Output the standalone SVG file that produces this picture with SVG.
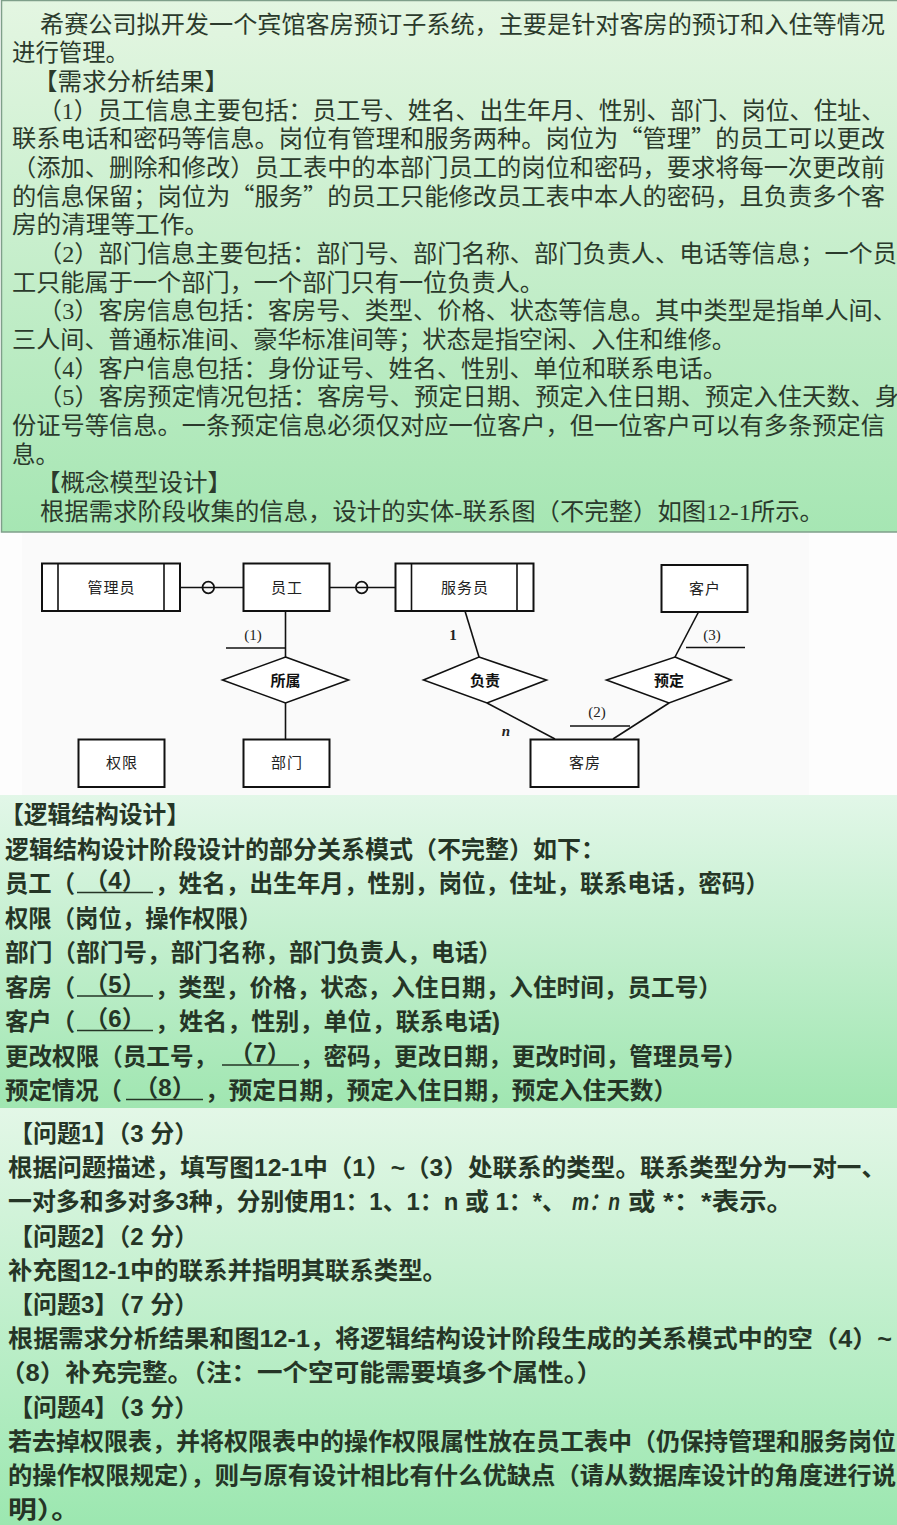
<svg xmlns="http://www.w3.org/2000/svg" width="897" height="1525" viewBox="0 0 897 1525">
<defs>
<linearGradient id="g1" x1="0" y1="0" x2="0" y2="1">
<stop offset="0" stop-color="#e4f6e2"/>
<stop offset="1" stop-color="#a6e6b3"/>
</linearGradient>
<linearGradient id="g2" x1="0" y1="0" x2="0" y2="1">
<stop offset="0" stop-color="#e2f7e8"/>
<stop offset="1" stop-color="#a0e6b1"/>
</linearGradient>
<linearGradient id="g3" x1="0" y1="0" x2="0" y2="1">
<stop offset="0" stop-color="#e3f7e7"/>
<stop offset="1" stop-color="#9ce7b0"/>
</linearGradient>
<style>
.t1{font-family:"Liberation Serif","Noto Sans CJK SC",serif;font-size:23.5px;fill:#2b3a2c}
.q{font-family:"Noto Sans CJK SC",sans-serif}
.t2{font-family:"Liberation Sans","Noto Sans CJK SC",sans-serif;font-size:24px;font-weight:bold;fill:#253526}
.box{fill:#ffffff;stroke:#111;stroke-width:2}
.dia{fill:#ffffff;stroke:#111;stroke-width:1.6}
.ln{stroke:#111;stroke-width:1.6;fill:none}
.lbl{font-family:"Noto Sans CJK SC","Noto Sans",sans-serif;font-size:15px;fill:#222;text-anchor:middle;letter-spacing:1px}
.dl{font-family:"Noto Sans CJK SC","Noto Sans",sans-serif;font-size:15px;font-weight:bold;fill:#111;text-anchor:middle}
.num{font-family:"Liberation Serif",serif;font-size:15px;fill:#222;text-anchor:middle}
.ul{stroke:#253526;stroke-width:1.6}
</style>
</defs>

<!-- backgrounds -->
<rect x="0" y="0" width="897" height="1525" fill="#ffffff"/>
<rect x="1.5" y="0.5" width="897" height="531.5" fill="url(#g1)" stroke="#7f9f8a" stroke-width="1.5"/>
<rect x="0" y="533" width="897" height="262" fill="#fdfdfd"/>
<rect x="22" y="533" width="787" height="262" fill="#fafafa"/>
<rect x="0" y="795" width="897" height="313" fill="url(#g2)"/>
<rect x="0" y="1108" width="897" height="417" fill="url(#g3)"/>

<!-- top text -->
<g id="intro">
<text class="t1" x="40" y="32.5" textLength="845" lengthAdjust="spacingAndGlyphs">希赛公司拟开发一个宾馆客房预订子系统，主要是针对客房的预订和入住等情况</text>
<text class="t1" x="12" y="61.2" textLength="117" lengthAdjust="spacingAndGlyphs">进行管理。</text>
<text class="t1" x="33" y="89.8" textLength="196" lengthAdjust="spacingAndGlyphs">【需求分析结果】</text>
<text class="t1" x="38" y="118.5" textLength="847" lengthAdjust="spacingAndGlyphs">（1）员工信息主要包括：员工号、姓名、出生年月、性别、部门、岗位、住址、</text>
<text class="t1" x="12" y="147.2" textLength="873" lengthAdjust="spacingAndGlyphs">联系电话和密码等信息。岗位有管理和服务两种。岗位为<tspan class="q">“</tspan>管理<tspan class="q">”</tspan>的员工可以更改</text>
<text class="t1" x="12" y="175.8" textLength="873" lengthAdjust="spacingAndGlyphs">（添加、删除和修改）员工表中的本部门员工的岗位和密码，要求将每一次更改前</text>
<text class="t1" x="12" y="204.5" textLength="873" lengthAdjust="spacingAndGlyphs">的信息保留；岗位为<tspan class="q">“</tspan>服务<tspan class="q">”</tspan>的员工只能修改员工表中本人的密码，且负责多个客</text>
<text class="t1" x="12" y="233.2" textLength="197" lengthAdjust="spacingAndGlyphs">房的清理等工作。</text>
<text class="t1" x="38" y="261.9" textLength="859" lengthAdjust="spacingAndGlyphs">（2）部门信息主要包括：部门号、部门名称、部门负责人、电话等信息；一个员</text>
<text class="t1" x="12" y="290.5" textLength="532" lengthAdjust="spacingAndGlyphs">工只能属于一个部门，一个部门只有一位负责人。</text>
<text class="t1" x="38" y="319.2" textLength="859" lengthAdjust="spacingAndGlyphs">（3）客房信息包括：客房号、类型、价格、状态等信息。其中类型是指单人间、</text>
<text class="t1" x="12" y="347.9" textLength="724" lengthAdjust="spacingAndGlyphs">三人间、普通标准间、豪华标准间等；状态是指空闲、入住和维修。</text>
<text class="t1" x="38" y="376.5" textLength="689" lengthAdjust="spacingAndGlyphs">（4）客户信息包括：身份证号、姓名、性别、单位和联系电话。</text>
<text class="t1" x="38" y="405.2" textLength="861" lengthAdjust="spacingAndGlyphs">（5）客房预定情况包括：客房号、预定日期、预定入住日期、预定入住天数、身</text>
<text class="t1" x="12" y="433.9" textLength="873" lengthAdjust="spacingAndGlyphs">份证号等信息。一条预定信息必须仅对应一位客户，但一位客户可以有多条预定信</text>
<text class="t1" x="12" y="462.5" textLength="47" lengthAdjust="spacingAndGlyphs">息。</text>
<text class="t1" x="36" y="491.2" textLength="196" lengthAdjust="spacingAndGlyphs">【概念模型设计】</text>
<text class="t1" x="40" y="519.9" textLength="784" lengthAdjust="spacingAndGlyphs">根据需求阶段收集的信息，设计的实体-联系图（不完整）如图12-1所示。</text>
</g>

<!-- ER diagram connectors -->
<g id="connectors">
<line class="ln" x1="180" y1="587.5" x2="243" y2="587.5"/>
<circle cx="208.3" cy="587.5" r="5.8" fill="none" stroke="#111" stroke-width="1.8"/>
<line class="ln" x1="329" y1="587.5" x2="395" y2="587.5"/>
<circle cx="361.7" cy="587.5" r="5.8" fill="none" stroke="#111" stroke-width="1.8"/>
<line class="ln" x1="285.5" y1="611" x2="285.5" y2="657"/>
<line class="ln" x1="226" y1="648" x2="285.5" y2="648"/>
<text class="num" x="253" y="640">(1)</text>
<line class="ln" x1="285.5" y1="703" x2="285.5" y2="739"/>
<line class="ln" x1="465" y1="611" x2="479" y2="657"/>
<text class="num" x="453" y="640" font-weight="bold">1</text>
<line class="ln" x1="487" y1="703" x2="555" y2="739"/>
<text class="num" x="506" y="736" font-weight="bold" font-style="italic">n</text>
<line class="ln" x1="698.5" y1="612" x2="675" y2="657"/>
<line class="ln" x1="686" y1="647.5" x2="745" y2="647.5"/>
<text class="num" x="712" y="640">(3)</text>
<line class="ln" x1="669" y1="703" x2="613" y2="739"/>
<line class="ln" x1="570" y1="726" x2="630" y2="726"/>
<text class="num" x="597" y="717">(2)</text>
</g>

<!-- ER nodes -->
<g id="node-manager">
<rect class="box" x="42" y="563.5" width="138" height="47.5"/>
<line class="ln" x1="58" y1="563.5" x2="58" y2="611" stroke-width="2"/>
<line class="ln" x1="164" y1="563.5" x2="164" y2="611" stroke-width="2"/>
<text class="lbl" x="111.5" y="592.5">管理员</text>
</g>
<g id="node-employee">
<rect class="box" x="243.5" y="563.5" width="86" height="47.5"/>
<text class="lbl" x="287" y="592.5">员工</text>
</g>
<g id="node-attendant">
<rect class="box" x="395.5" y="563.5" width="138" height="47.5"/>
<line class="ln" x1="411.5" y1="563.5" x2="411.5" y2="611" stroke-width="2"/>
<line class="ln" x1="517" y1="563.5" x2="517" y2="611" stroke-width="2"/>
<text class="lbl" x="465" y="592.5">服务员</text>
</g>
<g id="node-customer">
<rect class="box" x="661.5" y="565" width="86" height="47"/>
<text class="lbl" x="705" y="593.5">客户</text>
</g>
<g id="rel-belong">
<polygon class="dia" points="285.5,657 348.5,680 285.5,703 222.5,680"/>
<text class="dl" x="285.5" y="685.5">所属</text>
</g>
<g id="rel-charge">
<polygon class="dia" points="479,657 546.5,680 487,703 423.5,680"/>
<text class="dl" x="485" y="685.5">负责</text>
</g>
<g id="rel-book">
<polygon class="dia" points="675,657 731,680 669,703 606.5,680"/>
<text class="dl" x="669" y="685.5">预定</text>
</g>
<g id="node-permission">
<rect class="box" x="78.5" y="739.5" width="86" height="47.5"/>
<text class="lbl" x="122" y="768">权限</text>
</g>
<g id="node-dept">
<rect class="box" x="243.5" y="739.5" width="86" height="47.5"/>
<text class="lbl" x="287" y="768">部门</text>
</g>
<g id="node-room">
<rect class="box" x="530.5" y="739.5" width="108" height="47.5"/>
<text class="lbl" x="585" y="768">客房</text>
</g>

<!-- logical design -->
<g id="logic">
<text class="t2" x="0" y="823" textLength="190" lengthAdjust="spacingAndGlyphs">【逻辑结构设计】</text>
<text class="t2" x="5" y="857.5" textLength="600" lengthAdjust="spacingAndGlyphs">逻辑结构设计阶段设计的部分关系模式（不完整）如下：</text>

<text class="t2" x="5" y="892" textLength="70" lengthAdjust="spacingAndGlyphs">员工（</text>
<text class="t2" x="115" y="889" text-anchor="middle">（4）</text>
<line class="ul" x1="77" y1="892.5" x2="153" y2="892.5"/>
<text class="t2" x="155" y="892" textLength="614" lengthAdjust="spacingAndGlyphs">，姓名，出生年月，性别，岗位，住址，联系电话，密码）</text>

<text class="t2" x="5" y="926.5" textLength="257" lengthAdjust="spacingAndGlyphs">权限（岗位，操作权限）</text>
<text class="t2" x="5" y="961" textLength="497" lengthAdjust="spacingAndGlyphs">部门（部门号，部门名称，部门负责人，电话）</text>

<text class="t2" x="5" y="995.5" textLength="70" lengthAdjust="spacingAndGlyphs">客房（</text>
<text class="t2" x="115" y="992.5" text-anchor="middle">（5）</text>
<line class="ul" x1="77" y1="996" x2="153" y2="996"/>
<text class="t2" x="155" y="995.5" textLength="567" lengthAdjust="spacingAndGlyphs">，类型，价格，状态，入住日期，入住时间，员工号）</text>

<text class="t2" x="5" y="1030" textLength="70" lengthAdjust="spacingAndGlyphs">客户（</text>
<text class="t2" x="115" y="1027" text-anchor="middle">（6）</text>
<line class="ul" x1="77" y1="1030.5" x2="153" y2="1030.5"/>
<text class="t2" x="155" y="1030" textLength="345" lengthAdjust="spacingAndGlyphs">，姓名，性别，单位，联系电话)</text>

<text class="t2" x="5" y="1064.5" textLength="212" lengthAdjust="spacingAndGlyphs">更改权限（员工号，</text>
<text class="t2" x="260" y="1061.5" text-anchor="middle">（7）</text>
<line class="ul" x1="222" y1="1065" x2="299" y2="1065"/>
<text class="t2" x="300" y="1064.5" textLength="447" lengthAdjust="spacingAndGlyphs">，密码，更改日期，更改时间，管理员号）</text>

<text class="t2" x="5" y="1099" textLength="117" lengthAdjust="spacingAndGlyphs">预定情况（</text>
<text class="t2" x="165" y="1096" text-anchor="middle">（8）</text>
<line class="ul" x1="126" y1="1099.5" x2="203" y2="1099.5"/>
<text class="t2" x="205" y="1099" textLength="472" lengthAdjust="spacingAndGlyphs">，预定日期，预定入住日期，预定入住天数）</text>
</g>

<!-- questions -->
<g id="questions">
<text class="t2" x="9" y="1142">【问题1】（3 分）</text>
<text class="t2" x="8" y="1176.2" textLength="878" lengthAdjust="spacingAndGlyphs">根据问题描述，填写图12-1中（1）~（3）处联系的类型。联系类型分为一对一、</text>
<text class="t2" x="8" y="1210.4" textLength="558" lengthAdjust="spacingAndGlyphs">一对多和多对多3种，分别使用1：1、1：n 或 1：*、</text>
<text class="t2" x="572" y="1210.4" font-style="italic" textLength="48" lengthAdjust="spacingAndGlyphs">m：n</text>
<text class="t2" x="628" y="1210.4" textLength="166" lengthAdjust="spacingAndGlyphs">或 *：*表示。</text>
<text class="t2" x="9" y="1244.6">【问题2】（2 分）</text>
<text class="t2" x="8" y="1278.8" textLength="439" lengthAdjust="spacingAndGlyphs">补充图12-1中的联系并指明其联系类型。</text>
<text class="t2" x="9" y="1313">【问题3】（7 分）</text>
<text class="t2" x="8" y="1347.2" textLength="884" lengthAdjust="spacingAndGlyphs">根据需求分析结果和图12-1，将逻辑结构设计阶段生成的关系模式中的空（4）~</text>
<text class="t2" x="0" y="1381.4" textLength="602" lengthAdjust="spacingAndGlyphs">（8）补充完整。（注：一个空可能需要填多个属性。）</text>
<text class="t2" x="9" y="1415.6">【问题4】（3 分）</text>
<text class="t2" x="8" y="1449.8" textLength="888" lengthAdjust="spacingAndGlyphs">若去掉权限表，并将权限表中的操作权限属性放在员工表中（仍保持管理和服务岗位</text>
<text class="t2" x="8" y="1484" textLength="888" lengthAdjust="spacingAndGlyphs">的操作权限规定），则与原有设计相比有什么优缺点（请从数据库设计的角度进行说</text>
<text class="t2" x="8" y="1518.2" textLength="72" lengthAdjust="spacingAndGlyphs">明）。</text>
</g>
</svg>
